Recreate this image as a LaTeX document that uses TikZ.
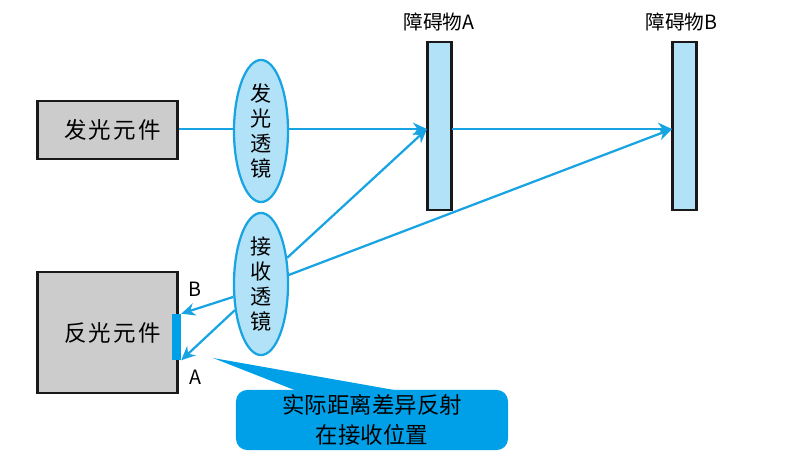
\documentclass[tikz,border=0pt]{standalone}
\usepackage{fontspec}
\setmainfont{Noto Sans CJK SC}
\usetikzlibrary{arrows.meta,shapes.geometric}
\definecolor{RayBlue}{RGB}{24,164,226}
\definecolor{SoftBlue}{RGB}{178,226,248}
\definecolor{CalloutBlue}{RGB}{0,160,233}
\definecolor{PartGray}{RGB}{204,204,204}
\tikzset{
  part/.style={draw=black!90,fill=PartGray,line width=2pt,minimum width=3.5cm,font=\fontsize{16}{20}\selectfont\addfontfeature{LetterSpace=9}},
  lens/.style={ellipse,draw=RayBlue,fill=SoftBlue,line width=1.6pt,inner sep=0pt,minimum width=1.35cm,minimum height=3.55cm,align=center,font=\fontsize{15}{17.7}\selectfont},
  barrier/.style={draw=black!90,fill=SoftBlue,line width=2pt,minimum width=0.6cm,minimum height=4.2cm,inner sep=0pt},
  ray/.style={draw=RayBlue,line width=1.6pt},
  rayarrow/.style={ray,-{Stealth[length=10pt,width=9pt]}},
  lab/.style={font=\fontsize{14}{16}\selectfont},
  barname/.style={font=\fontsize{14}{18}\selectfont},
}
\begin{document}
\begin{tikzpicture}[x=0.025cm,y=-0.025cm]
\useasboundingbox (0,0) rectangle (786,465);
\node[part,minimum height=1.45cm] (emit) at (107.5,130) {\hspace*{0.25cm}发光元件};
\node[part,minimum height=3.02cm] (reflect) at (107.5,332.5) {\hspace*{0.25cm}反光元件};
\node[fill=CalloutBlue,minimum width=0.22cm,minimum height=1.15cm,inner sep=0pt] (sensor) at (176.5,337) {};
\node[barrier] (barA) at (439.5,126) {};
\node[barrier] (barB) at (684.5,126) {};
\coordinate (inA) at (427,129);
\coordinate (outA) at (452,129);
\coordinate (inB) at (672,129);
\node[lens] (lensT) at (261,131) {发\\光\\透\\镜};
\node[lens] (lensR) at (261,284) {接\\收\\透\\镜};
\draw[ray] (emit.east |- inA) -- (lensT.west |- inA);
\draw[rayarrow] (lensT.east |- inA) -- (inA);
\draw[rayarrow] (outA) -- (inB);
\draw[rayarrow] (lensR.45) -- (inA);
\draw[rayarrow] (lensR.18) -- (inB);
\draw[rayarrow] (lensR.205) -- (sensor.north east);
\draw[rayarrow] (lensR.225) -- (sensor.south east);
\node[lab] (labB) at (195,289) {B};
\node[lab] (labA) at (195,377) {A};
\node[barname] (nameA) at (439,22) {障碍物A};
\node[barname] (nameB) at (681.5,22) {障碍物B};
\node[fill=CalloutBlue,rounded corners=8pt,minimum width=6.8cm,minimum height=1.5cm,align=center,font=\fontsize{16}{21}\selectfont] (note) at (372,420) {实际距离差异反射\\在接收位置};
\coordinate (tip) at (213,358);
\fill[CalloutBlue] (tip) -- (400,391) -- (297,391) -- cycle;
\end{tikzpicture}
\end{document}
